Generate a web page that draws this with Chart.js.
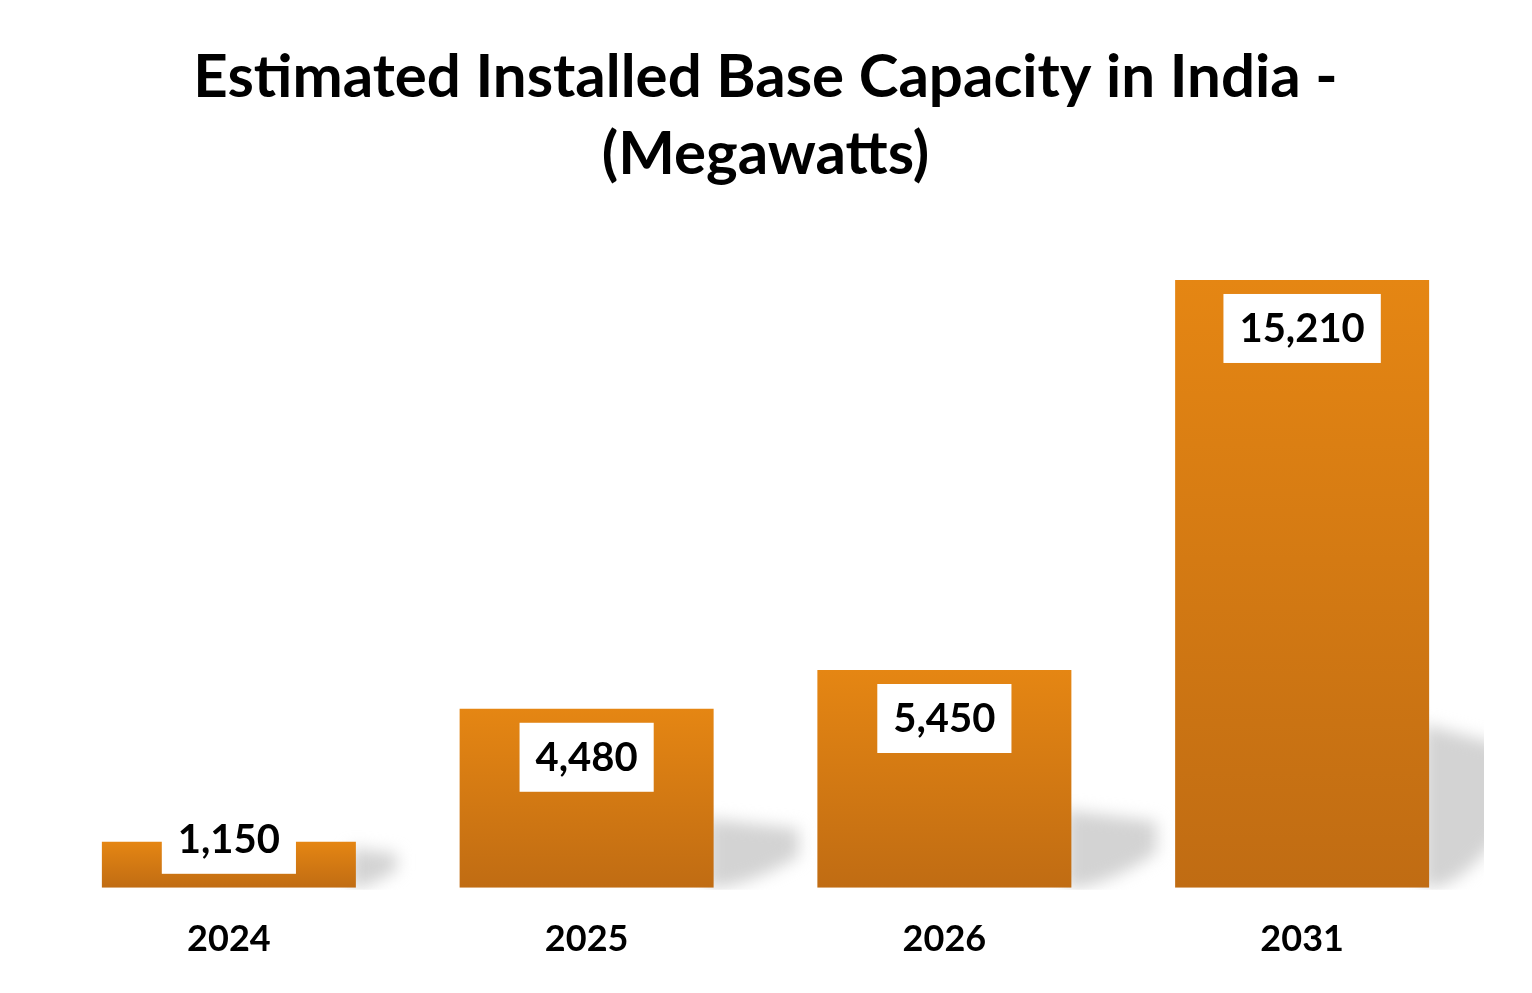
<!DOCTYPE html>
<html>
<head>
<meta charset="utf-8">
<script src="https://cdn.jsdelivr.net/npm/chart.js@4.4.1/dist/chart.umd.min.js"></script>
<style>
  html, body { margin: 0; padding: 0; background: #fff; }
  #wrap { width: 1532px; height: 993px; }
</style>
</head>
<body>
<div id="wrap"><canvas id="capacityChart" width="1532" height="993"></canvas></div>
<script>
const years = ['2024', '2025', '2026', '2031'];
const capacityMW = [1150, 4480, 5450, 15210];
const titleLines = ['Estimated Installed Base Capacity in India -', '(Megawatts)'];

const FONT = 'Lato, "Open Sans", sans-serif';

// soft grey shadow falling to the right of each bar
const barShadow = {
  id: 'barShadow',
  beforeDatasetsDraw(chart) {
    const { ctx } = chart;
    const base = chart.scales.y.getPixelForValue(0);
    ctx.save();
    ctx.beginPath();
    ctx.rect(0, 0, 1484, base + 2);
    ctx.clip();
    chart.getDatasetMeta(0).data.forEach((bar) => {
      const right = bar.x + bar.width / 2;
      const h = base - bar.y;
      const sh = Math.min(h, 30 + h * 0.22);
      const w = Math.min(85, 25 + h * 0.35);
      ctx.save();
      ctx.filter = 'blur(8px)';
      ctx.fillStyle = 'rgba(200,200,200,0.8)';
      ctx.beginPath();
      ctx.moveTo(right - 6, base);
      ctx.lineTo(right - 6, base - sh);
      ctx.lineTo(right + w, base - sh * 0.85);
      ctx.lineTo(right + w, base - sh * 0.45);
      ctx.quadraticCurveTo(right + w * 0.45, base - 4, right + 4, base);
      ctx.closePath();
      ctx.fill();
      ctx.restore();
    });
    ctx.restore();
  }
};

// white boxed value labels inside the top of each bar
const valueBoxes = {
  id: 'valueBoxes',
  afterDatasetsDraw(chart) {
    const { ctx } = chart;
    const base = chart.scales.y.getPixelForValue(0);
    ctx.save();
    ctx.font = 'bold 40px ' + FONT;
    ctx.textAlign = 'center';
    ctx.textBaseline = 'middle';
    chart.getDatasetMeta(0).data.forEach((bar, i) => {
      const text = capacityMW[i].toLocaleString('en-US');
      const bw = ctx.measureText(text).width + 32;
      const bh = 69;
      const top = Math.min(bar.y + 14, base - 14 - bh);
      ctx.fillStyle = '#ffffff';
      ctx.fillRect(bar.x - bw / 2, top, bw, bh);
      ctx.fillStyle = '#000000';
      ctx.fillText(text, bar.x, top + bh / 2 + 1);
    });
    ctx.restore();
  }
};

new Chart(document.getElementById('capacityChart'), {
  type: 'bar',
  data: {
    labels: years,
    datasets: [{
      label: 'Installed Base Capacity (MW)',
      data: capacityMW,
      backgroundColor: (c) => {
        const chart = c.chart;
        const y = chart.scales && chart.scales.y;
        if (!y || c.dataIndex === undefined) return '#D67A16';
        const top = y.getPixelForValue(capacityMW[c.dataIndex]);
        const base = y.getPixelForValue(0);
        if (!isFinite(top) || !isFinite(base) || top === base) return '#D67A16';
        const g = chart.ctx.createLinearGradient(0, top, 0, base);
        g.addColorStop(0, '#E58613');
        g.addColorStop(1, '#C06C13');
        return g;
      },
      borderWidth: 0,
      categoryPercentage: 1,
      barPercentage: 0.71
    }]
  },
  options: {
    responsive: false,
    animation: false,
    layout: { padding: { left: 50, right: 51, top: 0, bottom: 2 } },
    plugins: {
      legend: { display: false },
      tooltip: { enabled: false },
      title: {
        display: true,
        text: titleLines,
        color: '#000',
        font: { family: FONT, size: 60, weight: 'bold', lineHeight: 1.27 },
        padding: { top: 40, bottom: 56 }
      }
    },
    scales: {
      x: {
        grid: { display: false, drawTicks: false },
        border: { display: false },
        ticks: {
          color: '#000',
          padding: 30,
          font: { family: FONT, size: 36, weight: 'bold', lineHeight: 1.2 }
        }
      },
      y: {
        display: false,
        min: 0,
        max: 16000
      }
    }
  },
  plugins: [barShadow, valueBoxes]
});
</script>
</body>
</html>
